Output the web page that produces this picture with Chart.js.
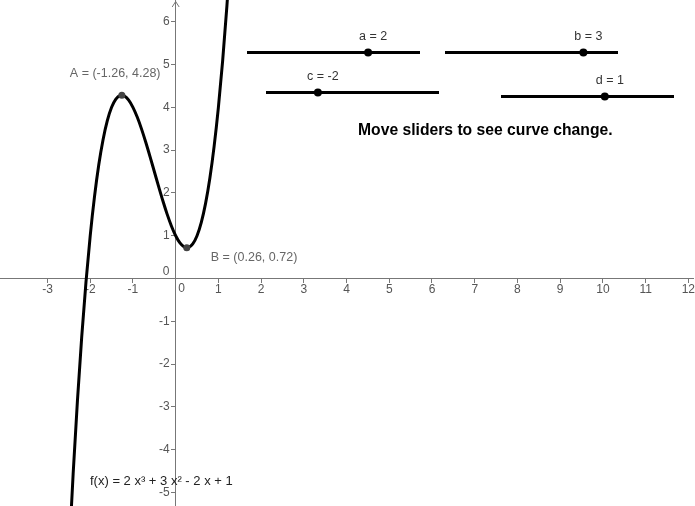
<!DOCTYPE html>
<html>
<head>
<meta charset="utf-8">
<script src="https://cdn.jsdelivr.net/npm/chart.js@4.4.0/dist/chart.umd.min.js"></script>
<style>
  html, body { margin: 0; padding: 0; background: #fff; }
  #wrap { width: 695px; height: 506px; }
</style>
</head>
<body>
<div id="wrap"><canvas id="myChart" width="695" height="506"></canvas></div>
<script>
// curve samples
const curveX = [-2.5, -2.4, -2.3, -2.2, -2.1, -2.0, -1.9, -1.8, -1.7, -1.6, -1.5, -1.4, -1.3, -1.26, -1.2, -1.1, -1.0,
  -0.9, -0.8, -0.7, -0.6, -0.5, -0.4, -0.3, -0.2, -0.1, 0, 0.1, 0.2, 0.26, 0.3, 0.4, 0.5, 0.6, 0.7, 0.8, 0.9, 1.0, 1.1, 1.2, 1.3];
const curveY = [-6.5, -4.568, -2.864, -1.376, -0.092, 1, 1.912, 2.656, 3.244, 3.688, 4.0, 4.192, 4.276, 4.28, 4.264, 4.168, 4,
  3.772, 3.496, 3.184, 2.848, 2.5, 2.152, 1.816, 1.504, 1.228, 1, 0.832, 0.736, 0.72, 0.724, 0.808, 1.0, 1.312, 1.756, 2.344, 3.088, 4, 5.092, 6.376, 7.864];

// extremum points
const pointNames = ['A', 'B'];
const pointX = [-1.26, 0.26];
const pointY = [4.28, 0.72];

// sliders
const sliderNames = ['a', 'b', 'c', 'd'];
const sliderValues = [2, 3, -2, 1];
const sliderMin = -5;
const sliderMax = 5;

const xTicks = [-3, -2, -1, 0, 1, 2, 3, 4, 5, 6, 7, 8, 9, 10, 11, 12];
const yTicks = [-5, -4, -3, -2, -1, 0, 1, 2, 3, 4, 5, 6];

const FONT = '"Liberation Sans", Arial, sans-serif';
const AXIS = '#777';
const LABEL = '#555';

// slider layout on screen: left, y
const sliderPos = [[247, 52.5], [445, 52.5], [266, 92.5], [501, 96.5]];
const sliderLen = 173;

const extras = {
  id: 'extras',
  afterDraw(chart) {
    const c = chart.ctx;
    const xs = chart.scales.x, ys = chart.scales.y;
    const x0 = xs.getPixelForValue(0), y0 = ys.getPixelForValue(0);
    c.save();

    // arrow on y axis
    c.strokeStyle = AXIS;
    c.lineWidth = 1;
    c.beginPath();
    c.moveTo(x0 - 3.5, 7);
    c.lineTo(x0, 1.5);
    c.lineTo(x0 + 3.5, 7);
    c.stroke();

    // y tick labels, left of the axis
    c.font = '12px ' + FONT;
    c.fillStyle = LABEL;
    c.textBaseline = 'middle';
    c.textAlign = 'right';
    ys.ticks.forEach(t => {
      if (t.value !== 0) c.fillText(String(t.value), x0 - 6, ys.getPixelForValue(t.value));
    });

    // zero labels
    c.textAlign = 'center';
    c.fillText('0', x0 - 9.5, y0 - 6.5);
    c.fillText('0', x0 + 6, y0 + 10.5);

    // point labels
    c.fillStyle = '#666';
    c.font = '12.5px ' + FONT;
    c.textAlign = 'left';
    const offs = [[-52, -22], [24, 9.5]];
    pointNames.forEach((n, i) => {
      const px = xs.getPixelForValue(pointX[i]), py = ys.getPixelForValue(pointY[i]);
      c.fillText(n + ' = (' + pointX[i] + ', ' + pointY[i] + ')', px + offs[i][0], py + offs[i][1]);
    });

    // sliders
    sliderNames.forEach((n, i) => {
      const [left, y] = sliderPos[i];
      const dot = left + (sliderValues[i] - sliderMin) / (sliderMax - sliderMin) * sliderLen;
      c.strokeStyle = '#000';
      c.lineWidth = 3;
      c.beginPath();
      c.moveTo(left, y);
      c.lineTo(left + sliderLen, y);
      c.stroke();
      c.fillStyle = '#000';
      c.beginPath();
      c.arc(dot, y, 4, 0, Math.PI * 2);
      c.fill();
      c.fillStyle = '#333';
      c.font = '12.5px ' + FONT;
      c.textAlign = 'center';
      c.fillText(n + ' = ' + sliderValues[i], dot + 5, y - 16);
    });

    // texts
    c.fillStyle = '#000';
    c.font = 'bold 15.7px ' + FONT;
    c.textAlign = 'left';
    c.fillText('Move sliders to see curve change.', 358, 131);

    c.fillStyle = '#222';
    c.font = '13px ' + FONT;
    c.fillText('f(x) = 2 x³ + 3 x² - 2 x + 1', 90, 481);
    c.restore();
  }
};

const ctx = document.getElementById('myChart');

new Chart(ctx, {
  type: 'scatter',
  data: {
    datasets: [{
      data: pointX.map((x, i) => ({x: x, y: pointY[i]})),
      pointRadius: 3.5,
      pointBackgroundColor: '#444',
      pointBorderWidth: 0
    }, {
      data: curveX.map((x, i) => ({x: x, y: curveY[i]})),
      showLine: true,
      borderColor: '#000',
      borderWidth: 3,
      pointRadius: 0,
      cubicInterpolationMode: 'monotone'
    }]
  },
  options: {
    responsive: false,
    animation: false,
    events: [],
    layout: { padding: 0, autoPadding: false },
    plugins: { legend: { display: false }, tooltip: { enabled: false } },
    scales: {
      x: {
        type: 'linear',
        min: -4.112,
        max: 12.126,
        position: { y: 0 },
        afterBuildTicks: s => { s.ticks = xTicks.map(v => ({value: v})); },
        ticks: {
          callback: v => v === 0 ? '' : v,
          font: { family: FONT, size: 12 },
          color: LABEL,
          padding: 0,
          maxRotation: 0,
          autoSkip: false
        },
        grid: { drawOnChartArea: false, tickLength: 4, tickColor: AXIS },
        border: { color: AXIS, width: 1 }
      },
      y: {
        type: 'linear',
        min: -5.315,
        max: 6.507,
        position: { x: 0 },
        afterBuildTicks: s => { s.ticks = yTicks.map(v => ({value: v})); },
        ticks: { display: false },
        grid: { drawOnChartArea: false, tickLength: 4, tickColor: AXIS },
        border: { color: AXIS, width: 1 }
      }
    }
  },
  plugins: [extras]
});
</script>
</body>
</html>
